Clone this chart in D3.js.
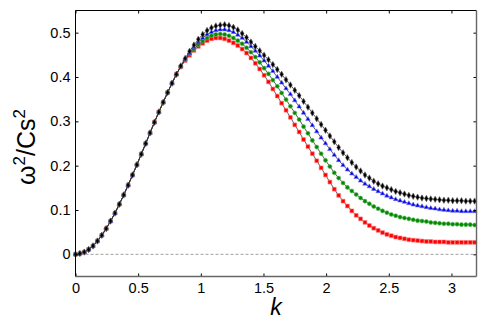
<!DOCTYPE html>
<html lang="en">
<head>
<meta charset="UTF-8">
<title>Dispersion</title>
<style>
    body { margin: 0; background: #fff; }
    .axis text { font: 14.5px "Liberation Sans", Arial, sans-serif; fill: #000; }
    .axis path { display: none; }
    .axis line { stroke: #000; stroke-width: 1; }
</style>
</head>
<body>
<div id="graph"></div>
<script src="https://cdnjs.cloudflare.com/ajax/libs/d3/7.0.0/d3.min.js"></script>
<script>
// wavenumber grid
var kVals = [
    0, 0.035, 0.07, 0.105, 0.14, 0.175, 0.21, 0.245, 0.28, 0.315,
    0.35, 0.385, 0.42, 0.455, 0.49, 0.525, 0.56, 0.595, 0.63, 0.665,
    0.7, 0.735, 0.77, 0.805, 0.84, 0.875, 0.91, 0.945, 0.98, 1.015,
    1.05, 1.085, 1.12, 1.155, 1.19, 1.225, 1.26, 1.295, 1.33, 1.365,
    1.4, 1.435, 1.47, 1.505, 1.54, 1.575, 1.61, 1.645, 1.68, 1.715,
    1.75, 1.785, 1.82, 1.855, 1.89, 1.925, 1.96, 1.995, 2.03, 2.065,
    2.1, 2.135, 2.17, 2.205, 2.24, 2.275, 2.31, 2.345, 2.38, 2.415,
    2.45, 2.485, 2.52, 2.555, 2.59, 2.625, 2.66, 2.695, 2.73, 2.765,
    2.8, 2.835, 2.87, 2.905, 2.94, 2.975, 3.01, 3.045, 3.08, 3.115,
    3.15, 3.185
];

// all four curves coincide up to k ~ 0.8
var riseShared = [
    0.000, 0.002, 0.005, 0.011, 0.019, 0.030, 0.043, 0.058, 0.075, 0.093,
    0.113, 0.134, 0.156, 0.179, 0.202, 0.226, 0.250, 0.274, 0.298, 0.321,
    0.343, 0.365, 0.386, 0.406
];

var blackTail = [
    0.425, 0.442, 0.458, 0.472, 0.485, 0.496, 0.505, 0.511, 0.515, 0.517,
    0.518, 0.516, 0.512, 0.506, 0.498, 0.489, 0.479, 0.469, 0.459, 0.449,
    0.439, 0.428, 0.417, 0.406, 0.394, 0.382, 0.370, 0.358, 0.345, 0.332,
    0.319, 0.306, 0.293, 0.280, 0.267, 0.254, 0.241, 0.229, 0.218, 0.207,
    0.197, 0.188, 0.179, 0.172, 0.165, 0.159, 0.154, 0.150, 0.146, 0.142,
    0.139, 0.136, 0.133, 0.131, 0.129, 0.127, 0.126, 0.125, 0.124, 0.123,
    0.122, 0.122, 0.121, 0.121, 0.121, 0.120, 0.120, 0.120
];

var blueTail = [
    0.424, 0.440, 0.454, 0.467, 0.478, 0.488, 0.496, 0.501, 0.505, 0.507,
    0.507, 0.505, 0.501, 0.495, 0.488, 0.479, 0.469, 0.459, 0.448, 0.437,
    0.425, 0.413, 0.400, 0.387, 0.374, 0.361, 0.347, 0.333, 0.319, 0.305,
    0.291, 0.277, 0.263, 0.250, 0.237, 0.224, 0.212, 0.201, 0.191, 0.182,
    0.174, 0.166, 0.159, 0.153, 0.147, 0.142, 0.137, 0.132, 0.128, 0.124,
    0.121, 0.118, 0.115, 0.112, 0.110, 0.108, 0.106, 0.104, 0.103, 0.101,
    0.100, 0.099, 0.098, 0.098, 0.097, 0.097, 0.097, 0.097
];

var greenTail = [
    0.424, 0.439, 0.452, 0.463, 0.473, 0.481, 0.488, 0.493, 0.496, 0.497,
    0.496, 0.493, 0.488, 0.482, 0.475, 0.466, 0.456, 0.445, 0.433, 0.420,
    0.407, 0.393, 0.379, 0.364, 0.349, 0.334, 0.319, 0.304, 0.288, 0.273,
    0.257, 0.242, 0.227, 0.212, 0.198, 0.184, 0.172, 0.161, 0.151, 0.143,
    0.135, 0.127, 0.120, 0.114, 0.108, 0.103, 0.098, 0.094, 0.090, 0.087,
    0.084, 0.082, 0.080, 0.078, 0.076, 0.075, 0.074, 0.072, 0.071, 0.070,
    0.069, 0.069, 0.068, 0.068, 0.067, 0.067, 0.067, 0.066
];

var redTail = [
    0.423, 0.437, 0.449, 0.460, 0.469, 0.476, 0.482, 0.486, 0.488, 0.488,
    0.486, 0.482, 0.477, 0.471, 0.463, 0.454, 0.443, 0.431, 0.418, 0.404,
    0.389, 0.373, 0.357, 0.341, 0.325, 0.309, 0.292, 0.276, 0.259, 0.243,
    0.227, 0.211, 0.195, 0.179, 0.163, 0.147, 0.133, 0.120, 0.109, 0.098,
    0.088, 0.080, 0.072, 0.065, 0.059, 0.054, 0.049, 0.045, 0.042, 0.039,
    0.037, 0.035, 0.033, 0.032, 0.031, 0.030, 0.029, 0.029, 0.028, 0.028,
    0.028, 0.027, 0.027, 0.027, 0.027, 0.027, 0.027, 0.027
];

var xTicks = [0, 0.5, 1, 1.5, 2, 2.5, 3];
var yTicks = [0, 0.1, 0.2, 0.3, 0.4, 0.5];

// drawn bottom to top
var series = [
    { name: "red",   values: riseShared.concat(redTail),   color: "#ff0000", edge: "#ff8080", symbol: d3.symbolSquare,   size: 15 },
    { name: "green", values: riseShared.concat(greenTail), color: "#008c00", edge: "#60b860", symbol: d3.symbolCircle,   size: 13 },
    { name: "blue",  values: riseShared.concat(blueTail),  color: "#0000e6", edge: "#7070ff", symbol: d3.symbolTriangle, size: 9 },
    { name: "black", values: riseShared.concat(blackTail), color: "#000000", edge: "#666666", symbol: d3.symbolDiamond,  size: 12 }
];

var margin = { top: 10.5, right: 14.5, bottom: 50.5, left: 75.5 },
    width = 491 - margin.left - margin.right,
    height = 327 - margin.top - margin.bottom;

var svg = d3.select("#graph").append("svg")
    .attr("width", 491)
    .attr("height", 327)
    .append("g")
    .attr("transform", "translate(" + margin.left + "," + margin.top + ")");

var x = d3.scaleLinear().domain([0, 3.2]).range([0, width]);
var y = d3.scaleLinear().domain([-0.05, 0.55]).range([height, 0]);

// zero reference line
svg.append("line")
    .attr("x1", 0).attr("x2", width)
    .attr("y1", y(0)).attr("y2", y(0))
    .attr("stroke", "#888")
    .attr("stroke-width", 0.8)
    .attr("stroke-dasharray", "3,2");

var line = d3.line().x((d, i) => x(kVals[i])).y(d => y(d));

series.forEach(function (s) {
    svg.append("path")
        .datum(s.values)
        .attr("fill", "none")
        .attr("stroke", "#333")
        .attr("stroke-width", 0.8)
        .attr("d", line);

    svg.append("g").selectAll("path")
        .data(s.values)
        .enter().append("path")
        .attr("transform", (d, i) => "translate(" + x(kVals[i]) + "," + y(d) + ")")
        .attr("d", d3.symbol().type(s.symbol).size(s.size))
        .attr("fill", s.color)
        .attr("stroke", s.edge)
        .attr("stroke-width", 0.6);
});

// axes with inward ticks on all four sides
svg.append("g")
    .attr("class", "x axis")
    .attr("transform", "translate(0," + height + ")")
    .call(d3.axisBottom(x).tickValues(xTicks).tickSize(-3).tickPadding(6).tickFormat(d3.format("")));

svg.append("g")
    .attr("class", "x axis")
    .call(d3.axisTop(x).tickValues(xTicks).tickSize(-3).tickFormat(""));

svg.append("g")
    .attr("class", "y axis")
    .call(d3.axisLeft(y).tickValues(yTicks).tickSize(-3).tickPadding(5).tickFormat(d3.format("")));

svg.append("g")
    .attr("class", "y axis")
    .attr("transform", "translate(" + width + ",0)")
    .call(d3.axisRight(y).tickValues(yTicks).tickSize(-3).tickFormat(""));

// frame
svg.append("line").attr("x1", 0).attr("x2", 0).attr("y1", 0).attr("y2", height)
    .attr("stroke", "#000").attr("stroke-width", 1);
svg.append("line").attr("x1", 0).attr("x2", width).attr("y1", 0).attr("y2", 0)
    .attr("stroke", "#000").attr("stroke-width", 1);
svg.append("line").attr("x1", width).attr("x2", width).attr("y1", 0).attr("y2", height)
    .attr("stroke", "#666").attr("stroke-width", 1.4);
svg.append("line").attr("x1", 0).attr("x2", width).attr("y1", height).attr("y2", height)
    .attr("stroke", "#666").attr("stroke-width", 1.4);

// axis titles
svg.append("text")
    .attr("x", width / 2)
    .attr("y", height + 38)
    .attr("text-anchor", "middle")
    .style("font", "italic 23px 'Liberation Sans', Arial, sans-serif")
    .text("k");

var yTitle = svg.append("text")
    .attr("transform", "translate(-41," + (147 - margin.top) + ") rotate(-90)")
    .attr("text-anchor", "middle")
    .style("font", "25px 'Liberation Sans', Arial, sans-serif");
yTitle.append("tspan").text("ω");
yTitle.append("tspan").attr("dy", -10).style("font-size", "17px").text("2");
yTitle.append("tspan").attr("dy", 10).text("/Cs");
yTitle.append("tspan").attr("dy", -10).style("font-size", "17px").text("2");
</script>
</body>
</html>
